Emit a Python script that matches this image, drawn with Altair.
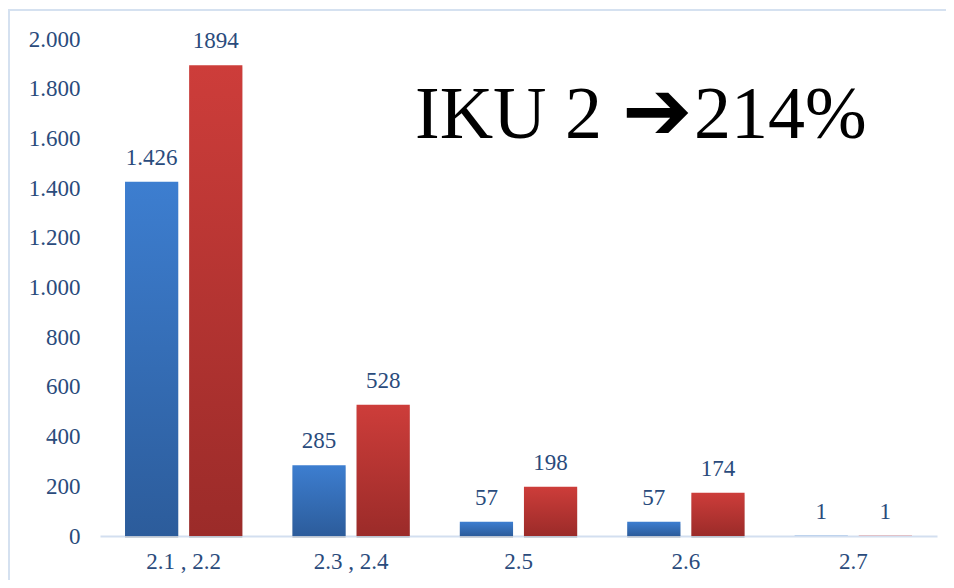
import altair as alt
import pandas as pd

# ---- data ----
categories = ["2.1 , 2.2", "2.3 , 2.4", "2.5", "2.6", "2.7"]
series_names = ["Seri 1", "Seri 2"]
values_1 = [1426, 285, 57, 57, 1]
values_2 = [1894, 528, 198, 174, 1]
labels_1 = ["1.426", "285", "57", "57", "1"]
labels_2 = ["1894", "528", "198", "174", "1"]
y_ticks = [0, 200, 400, 600, 800, 1000, 1200, 1400, 1600, 1800, 2000]
headline_left = ["IKU 2"]
headline_arrow = ["\u2794"]
headline_right = ["214%"]

rows = []
for c, v, l in zip(categories, values_1, labels_1):
    rows.append({"category": c, "series": series_names[0], "value": v, "label": l})
for c, v, l in zip(categories, values_2, labels_2):
    rows.append({"category": c, "series": series_names[1], "value": v, "label": l})
df = pd.DataFrame(rows)

FONT = "Times New Roman, Liberation Serif, DejaVu Serif, serif"
TXT = "#2a4b7c"
FS = 23

x = alt.X(
    "category:N",
    sort=categories,
    scale=alt.Scale(domain=categories, paddingInner=0, paddingOuter=0),
    axis=alt.Axis(
        title=None, labelAngle=0, ticks=False, domainColor="#d3dff0",
        domainWidth=2, labelPadding=14, labelFontSize=FS, labelFont=FONT,
        labelColor=TXT,
    ),
)
xo = alt.XOffset(
    "series:N",
    sort=series_names,
    scale=alt.Scale(domain=series_names, paddingInner=0.17, paddingOuter=0.39),
)
y = alt.Y(
    "value:Q",
    scale=alt.Scale(domain=[0, 2000], nice=False),
    axis=alt.Axis(
        values=y_ticks, title=None, grid=False, domain=False, ticks=False,
        labelPadding=20, labelFontSize=FS, labelFont=FONT, labelColor=TXT,
        labelExpr="replace(format(datum.value, ','), ',', '.')",
    ),
)


def grad(top, bottom):
    return alt.Gradient(
        gradient="linear",
        stops=[alt.GradientStop(color=top, offset=0), alt.GradientStop(color=bottom, offset=1)],
        x1=1, x2=1, y1=0, y2=1,
    )


base = alt.Chart(df)

shadow = base.transform_filter(alt.datum.value > 5).mark_bar(
    color="#000000", opacity=0.12, xOffset=2, yOffset=2
).encode(x=x, xOffset=xo, y=y)
bars_1 = base.transform_filter(alt.datum.series == series_names[0]).mark_bar(
    color=grad("#3d7ed0", "#2c5c9b")
).encode(x=x, xOffset=xo, y=y)
bars_2 = base.transform_filter(alt.datum.series == series_names[1]).mark_bar(
    color=grad("#cd3d3a", "#9b2b29")
).encode(x=x, xOffset=xo, y=y)

labels = base.mark_text(
    baseline="alphabetic", dy=-17, fontSize=FS, font=FONT, color=TXT
).encode(x=x, xOffset=xo, y=y, text="label:N")

t1 = alt.Chart(pd.DataFrame({"t": headline_left})).mark_text(
    font=FONT, fontSize=74, align="left", baseline="alphabetic", color="#000000"
).encode(x=alt.value(315), y=alt.value(99), text="t:N")
t2 = alt.Chart(pd.DataFrame({"t": headline_arrow})).mark_text(
    font="DejaVu Sans", fontSize=84, align="left", baseline="alphabetic", color="#000000"
).encode(x=alt.value(522), y=alt.value(100), text="t:N")
t3 = alt.Chart(pd.DataFrame({"t": headline_right})).mark_text(
    font=FONT, fontSize=74, align="left", baseline="alphabetic", color="#000000"
).encode(x=alt.value(594), y=alt.value(99), text="t:N")

border = alt.Chart(pd.DataFrame({"t": headline_left})).mark_rect(
    fillOpacity=0, stroke="#d5e1f0", strokeWidth=2
).encode(x=alt.value(-91), x2=alt.value(900), y=alt.value(-29), y2=alt.value(600))

chart = (
    alt.layer(border, shadow, bars_1, bars_2, labels, t1, t2, t3)
    .properties(
        width=837,
        height=497,
        autosize=alt.AutoSizeParams(type="none"),
        padding={"left": 92, "top": 31, "right": 9, "bottom": 44},
        background="white",
    )
    .configure_view(stroke=None)
)

chart.save("out.html", embed_options={"renderer": "svg", "actions": False})
